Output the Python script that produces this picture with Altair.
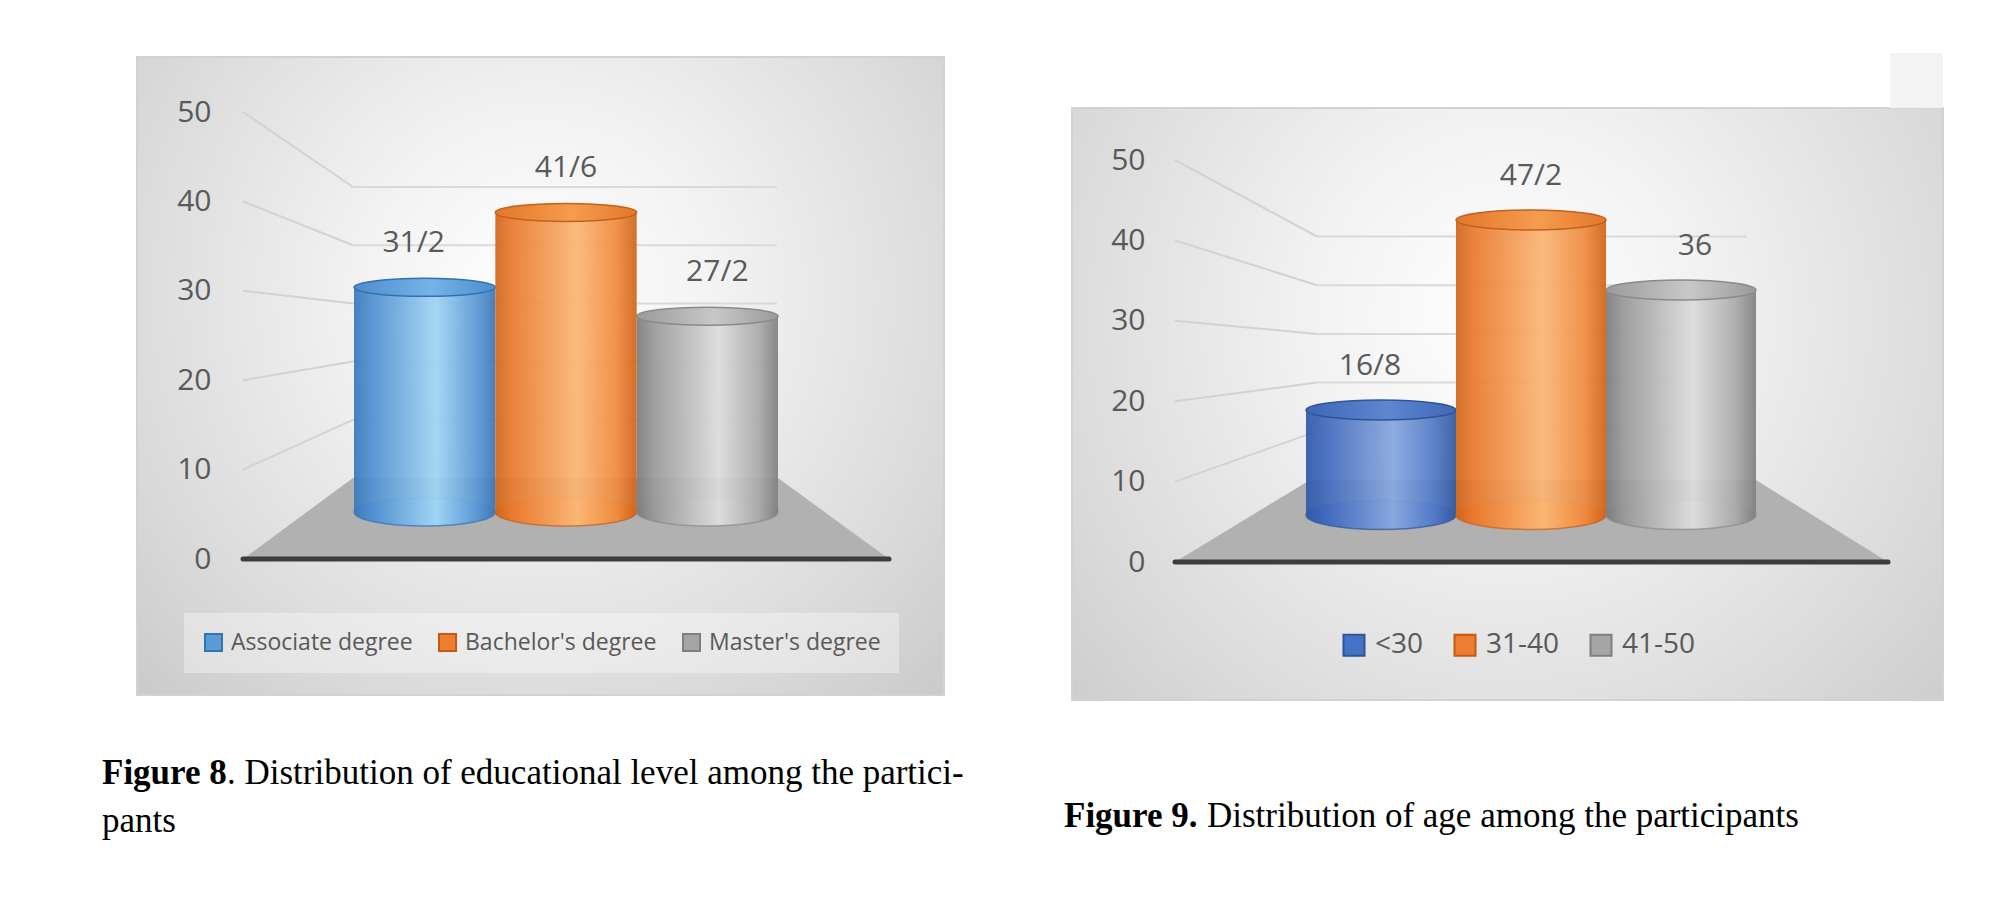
import altair as alt
import pandas as pd

# ---------------- data ----------------
edu_levels = ["Associate degree", "Bachelor's degree", "Master's degree"]
edu_values = [31.2, 41.6, 27.2]
edu_labels = ["31/2", "41/6", "27/2"]

age_groups = ["<30", "31-40", "41-50"]
age_values = [16.8, 47.2, 36.0]
age_labels = ["16/8", "47/2", "36"]

axis_ticks = [0, 10, 20, 30, 40, 50]

caption8_bold = "Figure 8"
caption8_rest = ". Distribution of educational level among the partici-"
caption8_line2 = "pants"
caption9_bold = "Figure 9."
caption9_rest = "Distribution of age among the participants"

# ---------------- styles ----------------
PANEL_H = 800
SANS = "Open Sans"
SERIF = "Liberation Serif"
GREY_TXT = "#595959"


def lin(stops):
    return alt.LinearGradient(
        gradient="linear",
        stops=[alt.GradientStop(color=c, offset=o) for o, c in stops],
        x1=0, x2=1, y1=0, y2=0,
    )


BG = alt.RadialGradient(
    gradient="radial",
    stops=[
        alt.GradientStop(color="#ffffff", offset=0),
        alt.GradientStop(color="#f2f2f2", offset=0.3),
        alt.GradientStop(color="#dadada", offset=0.7),
        alt.GradientStop(color="#c6c6c6", offset=1),
    ],
    x1=0.5, y1=0.4, r1=0, x2=0.5, y2=0.4, r2=0.75,
)


def ellipse_path(ry):
    k = 0.5523
    return (
        f"M -1 0 C -1 {-k*ry:.4f} {-k:.4f} {-ry:.4f} 0 {-ry:.4f} "
        f"C {k:.4f} {-ry:.4f} 1 {-k*ry:.4f} 1 0 "
        f"C 1 {k*ry:.4f} {k:.4f} {ry:.4f} 0 {ry:.4f} "
        f"C {-k:.4f} {ry:.4f} -1 {k*ry:.4f} -1 0 Z"
    )


BLUE_L = dict(
    body=[(0, "#3b78bb"), (0.12, "#4f8fcf"), (0.58, "#9fd4f4"), (0.86, "#5d9ad6"), (1, "#3c77b8")],
    top=[(0, "#4d8ccc"), (0.55, "#74b4e8"), (1, "#4d8ccc")],
    rim="#3470b0", legend_fill="#5b9bd5", legend_stroke="#2e75b6",
)
ORANGE = dict(
    body=[(0, "#d2651c"), (0.12, "#e97a2e"), (0.58, "#fbb675"), (0.86, "#ef8a3e"), (1, "#cf6419")],
    top=[(0, "#e3772a"), (0.55, "#f59c50"), (1, "#e3772a")],
    rim="#c4601a", legend_fill="#ed7d31", legend_stroke="#c55a11",
)
GREY = dict(
    body=[(0, "#7c7c7c"), (0.12, "#999999"), (0.58, "#dcdcdc"), (0.86, "#ababab"), (1, "#808080")],
    top=[(0, "#9a9a9a"), (0.55, "#c8c8c8"), (1, "#9a9a9a")],
    rim="#8a8a8a", legend_fill="#a5a5a5", legend_stroke="#7f7f7f",
)
BLUE_R = dict(
    body=[(0, "#2f5aa8"), (0.12, "#4068bb"), (0.58, "#88a7df"), (0.86, "#4f79c6"), (1, "#30599f")],
    top=[(0, "#3d67b6"), (0.55, "#5e86d1"), (1, "#3d67b6")],
    rim="#2f5597", legend_fill="#4472c4", legend_stroke="#2f5597",
)

LEFT_CFG = dict(
    W=880, box=(37, 844, 7, 645), small_box=None,
    front_zero=509, front_k=8.94, back_zero=428, back_k=5.82, cyl_zero=462, cyl_k=7.2,
    band=(254, 678), top_h=18, bot_h=28, label_gap=35, label_dx=[-11, 0, 10],
    diag_x=(143, 253), grid_x=(253, 677), floor_front=(143, 789), floor_back=(253, 678),
    axis_right=111, axis_fs=30, label_fs=30,
    legend=dict(x=84, y=563, padding=18, fill="rgba(255,255,255,0.35)", symbol=289,
                fs=23, offset=6, colpad=22),
    captions=[(caption8_bold, 2, 734, "bold"), (caption8_rest, 127, 734, "normal"),
              (caption8_line2, 2, 782, "normal")],
)
RIGHT_CFG = dict(
    W=890, box=(12, 883, 58, 650), small_box=(830, 883, 3, 58),
    front_zero=512, front_k=8.04, back_zero=430, back_k=4.87, cyl_zero=465, cyl_k=6.25,
    band=(246, 696), top_h=20, bot_h=29, label_gap=34, label_dx=[-11, 0, 14],
    diag_x=(115, 257), grid_x=(257, 687), floor_front=(115, 828), floor_back=(250, 696),
    axis_right=85, axis_fs=30, label_fs=30,
    legend=dict(x=280, y=581, padding=0, fill=None, symbol=441, fs=28, offset=7, colpad=26),
    captions=[(caption9_bold, 4, 777, "bold"), (caption9_rest, 147, 777, "normal")],
)


def panel(cfg, cats, vals, labs, styles, field):
    W = cfg["W"]
    fz, fk = cfg["front_zero"], cfg["front_k"]
    ysc = alt.Scale(domain=[-(PANEL_H - fz) / fk, fz / fk], nice=False, zero=False)
    yax = alt.Axis(
        values=axis_ticks, orient="left", offset=-cfg["axis_right"], ticks=False, tickSize=0,
        domain=False, grid=False, labelPadding=0, labelFont=SANS, labelFontSize=cfg["axis_fs"],
        labelColor=GREY_TXT, title=None, format="d", labelAlign="right", labelBaseline="middle",
        zindex=5,
    )

    def back(v):
        return (fz - (cfg["back_zero"] - cfg["back_k"] * v)) / fk

    def cyl(v):
        return (fz - (cfg["cyl_zero"] - cfg["cyl_k"] * v)) / fk

    band = alt.Scale(domain=cats, range=list(cfg["band"]), paddingInner=0, paddingOuter=0)
    xcat = alt.X(f"{field}:N", scale=band, axis=None)
    one = pd.DataFrame({"z": [0]})
    layers = []

    # legend carrier (hidden behind background)
    lg = cfg["legend"]
    lprops = dict(
        orient="none", legendX=lg["x"], legendY=lg["y"], direction="horizontal", title=None,
        symbolType="square", symbolSize=lg["symbol"], symbolStrokeWidth=2,
        labelFont=SANS, labelFontSize=lg["fs"], labelColor=GREY_TXT, labelOffset=lg["offset"],
        columnPadding=lg["colpad"], padding=lg["padding"], labelLimit=500,
    )
    if lg["fill"]:
        lprops["fillColor"] = lg["fill"]
    leg_df = pd.DataFrame({field: cats, "top": [cyl(v) for v in vals]})
    layers.append(
        alt.Chart(leg_df).mark_point(shape="square", filled=True, opacity=1, size=40).encode(
            x=xcat,
            y=alt.Y("top:Q", scale=ysc, axis=yax),
            fill=alt.Fill(f"{field}:N", scale=alt.Scale(domain=cats, range=[s["legend_fill"] for s in styles]),
                          legend=alt.Legend(**lprops)),
            stroke=alt.Stroke(f"{field}:N", scale=alt.Scale(domain=cats, range=[s["legend_stroke"] for s in styles]),
                              legend=alt.Legend(**lprops)),
        )
    )

    # panel background
    bx0, bx1, by0, by1 = cfg["box"]
    layers.append(
        alt.Chart(one).mark_rect(fill=BG, stroke="#d2d2d2", strokeWidth=2).encode(
            x=alt.value(bx0), x2=alt.value(bx1), y=alt.value(by0), y2=alt.value(by1)
        )
    )
    if cfg["small_box"]:
        sx0, sx1, sy0, sy1 = cfg["small_box"]
        layers.append(
            alt.Chart(one).mark_rect(fill="#f3f3f3").encode(
                x=alt.value(sx0), x2=alt.value(sx1), y=alt.value(sy0), y2=alt.value(sy1)
            )
        )

    # perspective gridlines
    tk = [t for t in axis_ticks if t > 0]
    grid_df = pd.DataFrame({"front": tk, "back": [back(t) for t in tk]})
    layers.append(
        alt.Chart(grid_df).mark_rule(color="#d2d2d2", strokeWidth=2).encode(
            x=alt.value(cfg["diag_x"][0]), x2=alt.value(cfg["diag_x"][1]),
            y=alt.Y("front:Q", scale=ysc, axis=yax), y2="back:Q",
        )
    )
    layers.append(
        alt.Chart(grid_df).mark_rule(color="#d9d9d9", strokeWidth=2).encode(
            x=alt.value(cfg["grid_x"][0]), x2=alt.value(cfg["grid_x"][1]),
            y=alt.Y("back:Q", scale=ysc, axis=yax),
        )
    )

    # floor
    fx0, fx1 = cfg["floor_front"]
    gx0, gx1 = cfg["floor_back"]
    floor_df = pd.DataFrame({"px": [fx0, gx0, gx1, fx1], "fy": [0, back(0), back(0), 0], "fy2": [0, 0, 0, 0]})
    layers.append(
        alt.Chart(floor_df).mark_area(color="#b1b1b1", opacity=1).encode(
            x=alt.X("px:Q", scale=alt.Scale(domain=[0, W], nice=False, zero=False), axis=None),
            y=alt.Y("fy:Q", scale=ysc, axis=yax), y2="fy2:Q",
        )
    )
    layers.append(
        alt.Chart(one).mark_rule(color="#3d3d3d", strokeWidth=5, strokeCap="round").encode(
            x=alt.value(fx0), x2=alt.value(fx1), y=alt.Y("z:Q", scale=ysc, axis=yax)
        )
    )

    # cylinders
    w = (cfg["band"][1] - cfg["band"][0]) / len(cats)
    for i, (c, v, lab, s) in enumerate(zip(cats, vals, labs, styles)):
        d = pd.DataFrame({field: [c], "base": [cyl(0)], "top": [cyl(v)], "lab": [lab]})
        layers.append(
            alt.Chart(d).mark_point(
                shape=ellipse_path(cfg["bot_h"] / w), size=w * w, filled=True, fill=lin(s["body"]),
                stroke=s["rim"], strokeWidth=1.5, strokeOpacity=0.7, opacity=1,
            ).encode(x=xcat, y=alt.Y("base:Q", scale=ysc, axis=yax))
        )
        layers.append(
            alt.Chart(d).mark_rect(fill=lin(s["body"]), opacity=0.93).encode(
                x=xcat, y=alt.Y("base:Q", scale=ysc, axis=yax), y2="top:Q"
            )
        )
        layers.append(
            alt.Chart(d).mark_point(
                shape=ellipse_path(cfg["top_h"] / w), size=w * w, filled=True, fill=lin(s["top"]),
                stroke=s["rim"], strokeWidth=1.5, opacity=1,
            ).encode(x=xcat, y=alt.Y("top:Q", scale=ysc, axis=yax))
        )
        layers.append(
            alt.Chart(d).mark_text(
                font=SANS, fontSize=cfg["label_fs"], color=GREY_TXT, align="center", baseline="middle",
                dx=cfg["label_dx"][i], dy=-(cfg["top_h"] / 2 + cfg["label_gap"]),
            ).encode(x=xcat, y=alt.Y("top:Q", scale=ysc, axis=yax), text="lab:N")
        )

    # captions
    for txt, cx, cy, wt in cfg["captions"]:
        layers.append(
            alt.Chart(one).mark_text(
                text=txt, font=SERIF, fontSize=35, fontWeight=wt, color="#000000",
                align="left", baseline="alphabetic",
            ).encode(x=alt.value(cx), y=alt.value(cy))
        )

    return alt.layer(*layers).resolve_scale(x="independent").properties(width=W, height=PANEL_H)


left = panel(LEFT_CFG, edu_levels, edu_values, edu_labels, [BLUE_L, ORANGE, GREY], "level")
right = panel(RIGHT_CFG, age_groups, age_values, age_labels, [BLUE_R, ORANGE, GREY], "age")

chart = (
    alt.hconcat(left, right, spacing=80, bounds="flush")
    .resolve_scale(fill="independent", stroke="independent")
    .properties(padding={"left": 92, "top": 42, "right": 5, "bottom": 5}, background="white")
    .configure_view(stroke=None)
)

chart.save("out.html", embed_options={"renderer": "svg", "actions": False})
